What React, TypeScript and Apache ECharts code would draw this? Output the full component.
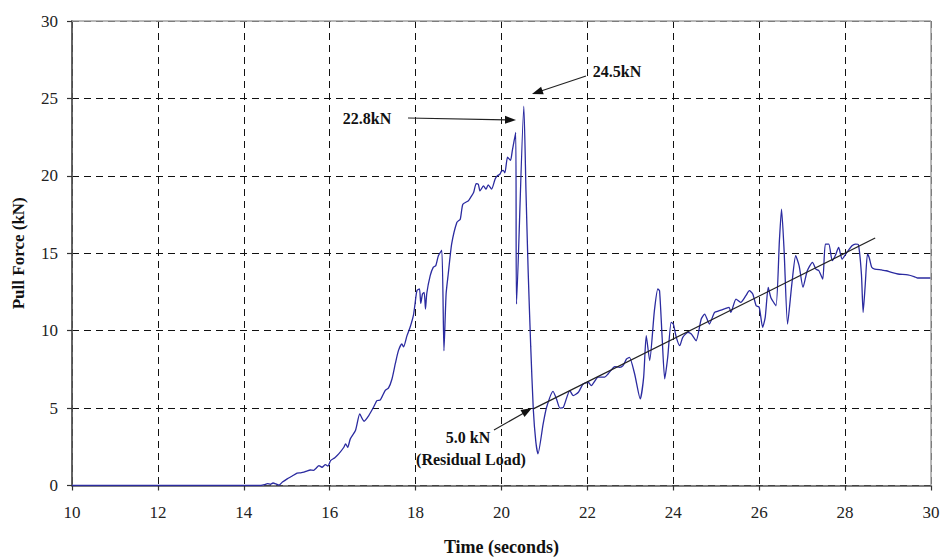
import React, { useEffect, useRef } from "react";
import * as echarts from "echarts";

const timeSec = [
  10, 14.4, 14.48, 14.55, 14.62, 14.68, 14.75, 14.82, 14.9, 15.01, 15.12, 15.24, 15.32, 15.4, 15.48, 15.55, 15.62,
  15.67, 15.75, 15.82, 15.9, 15.96, 16.02, 16.12, 16.21, 16.33, 16.37, 16.42, 16.48, 16.6, 16.7, 16.76, 16.8, 16.91,
  17.02, 17.1, 17.18, 17.29, 17.37, 17.45, 17.53, 17.6, 17.68, 17.72, 17.8, 17.87, 17.95, 17.99, 18.03, 18.09, 18.12,
  18.16, 18.2, 18.23, 18.26, 18.34, 18.41, 18.47, 18.53, 18.61, 18.66, 18.71, 18.76, 18.84, 18.96, 19.04, 19.1, 19.23,
  19.28, 19.35, 19.41, 19.46, 19.5, 19.58, 19.64, 19.69, 19.77, 19.85, 19.9, 19.96, 20.0, 20.04, 20.08, 20.14, 20.21,
  20.25, 20.33, 20.35, 20.52, 20.57, 20.62, 20.68, 20.74, 20.8, 20.85, 20.97, 21.05, 21.2, 21.28, 21.36, 21.44, 21.59,
  21.67, 21.79, 21.9, 22.02, 22.09, 22.25, 22.4, 22.48, 22.64, 22.75, 22.83, 22.91, 22.98, 23.1, 23.23, 23.31, 23.37,
  23.45, 23.56, 23.64, 23.68, 23.74, 23.8, 23.87, 23.95, 24.0, 24.07, 24.15, 24.22, 24.34, 24.42, 24.53, 24.65, 24.73,
  24.84, 24.96, 25.07, 25.19, 25.3, 25.34, 25.46, 25.57, 25.69, 25.77, 25.85, 25.93, 26.0, 26.08, 26.14, 26.21, 26.27,
  26.39, 26.47, 26.52, 26.58, 26.66, 26.76, 26.85, 26.93, 27.02, 27.12, 27.24, 27.32, 27.39, 27.48, 27.54, 27.62,
  27.7, 27.77, 27.85, 27.93, 28.04, 28.16, 28.24, 28.31, 28.38, 28.42, 28.47, 28.52, 28.56, 28.62, 28.69, 28.85,
  28.96, 29.08, 29.23, 29.46, 29.62, 29.69, 30.0,
];

const pullForce = [
  0, 0, 0.05, 0.12, 0.08, 0.16, 0.1, 0.02, 0.22, 0.43, 0.6, 0.8, 0.82, 0.86, 0.95, 1.0, 0.98,
  1.08, 1.29, 1.18, 1.35, 1.25, 1.61, 1.8, 2.04, 2.47, 2.69, 2.47, 3.01, 3.55, 4.62, 4.3, 4.15, 4.52,
  5.05, 5.48, 5.53, 6.13, 6.3, 6.88, 7.9, 8.71, 9.14, 8.95, 9.68, 10.2, 11.0, 11.8, 12.58, 12.7, 11.76,
  12.37, 12.47, 11.4, 12.4, 13.55, 14.09, 14.2, 14.84, 15.2, 8.7, 12.37, 13.66, 15.6, 16.99, 17.2, 18.17, 18.39,
  18.6, 18.92, 19.5, 19.46, 19.03, 19.35, 19.14, 19.42, 19.14, 19.78, 20.0, 20.1, 20.3, 20.35, 20.2, 21.2, 21.0,
  21.6, 22.8, 11.72, 24.5, 19.0, 13.9, 9.0, 4.94, 2.8, 2.05, 3.98, 5.05, 6.08, 5.59, 5.0, 5.05, 6.13,
  5.81, 6.02, 6.56, 6.67, 6.45, 7.0, 7.0, 7.2, 7.68, 7.63, 7.74, 8.17, 8.28, 7.2, 5.59, 7.0, 9.68,
  8.07, 11.29, 12.69, 12.58, 9.57, 6.88, 8.28, 10.54, 10.43, 9.57, 9.03, 9.57, 9.89, 9.78, 9.35, 10.75, 11.07,
  10.43, 11.18, 11.29, 11.4, 11.51, 11.18, 12.04, 11.83, 12.26, 12.58, 12.37, 11.61, 11.51, 10.22, 10.86, 12.8, 12.15,
  11.61, 15.8, 17.85, 15.16, 10.43, 13.01, 14.84, 14.19, 12.8, 13.87, 14.41, 13.98, 13.87, 13.33, 15.59, 15.59,
  14.52, 14.84, 15.38, 14.62, 15.05, 15.48, 15.59, 15.55, 13.66, 11.18, 13.01, 14.95, 14.73, 14.09, 13.98, 13.92,
  13.87, 13.76, 13.66, 13.6, 13.48, 13.4, 13.4,
];

// residual-load trend line
const trendTime = [20.74, 28.7];
const trendForce = [4.95, 15.98];

const xTicks = [10, 12, 14, 16, 18, 20, 22, 24, 26, 28, 30];
const yTicks = [0, 5, 10, 15, 20, 25, 30];

const SERIF = "'Liberation Serif', 'Times New Roman', 'DejaVu Serif', serif";

export default function App() {
  const ref = useRef<HTMLDivElement>(null);

  useEffect(() => {
    if (!ref.current) return;
    const chart = echarts.init(ref.current, null, { renderer: "svg" });
    const data = timeSec.map((t, i) => [t, pullForce[i]]);
    const trend = trendTime.map((t, i) => [t, trendForce[i]]);
    const gridLeft = 72;
    const gridTop = 21;
    const gridRight = 10;
    const gridBottom = 71.5;
    const W = 941;
    const H = 557;
    const xR = W - gridRight;
    const yB = H - gridBottom;

    const annFont = { fontFamily: SERIF, fontWeight: "bold", fontSize: 16, fill: "#111" };

    chart.setOption({
      animation: false,
      backgroundColor: "#ffffff",
      grid: {
        left: gridLeft,
        right: gridRight,
        top: gridTop,
        bottom: gridBottom,
        containLabel: false,
        outerBoundsMode: "none",
      },
      xAxis: {
        type: "value",
        min: xTicks[0],
        max: xTicks[xTicks.length - 1],
        interval: 2,
        name: "Time (seconds)",
        nameLocation: "middle",
        nameGap: 52,
        nameTextStyle: { fontFamily: SERIF, fontWeight: "bold", fontSize: 18, color: "#111" },
        axisLine: { show: true, onZero: false, lineStyle: { color: "#555", width: 1.5 } },
        axisTick: { show: true, inside: false, length: 5, lineStyle: { color: "#333", width: 1.2 } },
        axisLabel: { fontFamily: SERIF, fontSize: 17, color: "#222", margin: 18 },
        splitLine: { show: true, lineStyle: { color: "#111", width: 1, type: [7, 5] } },
      },
      yAxis: {
        type: "value",
        min: yTicks[0],
        max: yTicks[yTicks.length - 1],
        interval: 5,
        name: "Pull Force (kN)",
        nameLocation: "middle",
        nameGap: 45,
        nameTextStyle: { fontFamily: SERIF, fontWeight: "bold", fontSize: 17, color: "#111" },
        axisLine: { show: true, lineStyle: { color: "#555", width: 1.8 } },
        axisTick: { show: true, inside: false, length: 5, lineStyle: { color: "#333", width: 1.2 } },
        axisLabel: { fontFamily: SERIF, fontSize: 17, color: "#222", margin: 14 },
        splitLine: { show: true, lineStyle: { color: "#111", width: 1, type: [7, 5] } },
      },
      series: [
        {
          type: "line",
          data,
          showSymbol: false,
          smooth: 0.2,
          lineStyle: { color: "#2b2ba0", width: 1.3 },
          z: 3,
        },
        {
          type: "line",
          data: trend,
          showSymbol: false,
          lineStyle: { color: "#222", width: 1.2 },
          z: 4,
        },
      ],
      graphic: [
        // plot frame (top and right)
        { type: "line", shape: { x1: gridLeft, y1: gridTop, x2: xR, y2: gridTop }, style: { stroke: "#a0a0a0", lineWidth: 1.5 }, z: 10 },
        { type: "line", shape: { x1: xR, y1: gridTop, x2: xR, y2: yB }, style: { stroke: "#a0a0a0", lineWidth: 1.5 }, z: 10 },
        // 24.5kN
        { type: "text", x: 617, y: 71, style: { ...annFont, text: "24.5kN", align: "center", verticalAlign: "middle" }, z: 20 },
        { type: "line", shape: { x1: 586, y1: 76, x2: 541, y2: 91 }, style: { stroke: "#222", lineWidth: 1.2 }, z: 20 },
        { type: "polygon", shape: { points: [[532, 94], [543.7, 94.3], [541.1, 86.7]] }, style: { fill: "#111" }, z: 20 },
        // 22.8kN
        { type: "text", x: 367, y: 118, style: { ...annFont, text: "22.8kN", align: "center", verticalAlign: "middle" }, z: 20 },
        { type: "line", shape: { x1: 408, y1: 118, x2: 506, y2: 119.8 }, style: { stroke: "#222", lineWidth: 1.2 }, z: 20 },
        { type: "polygon", shape: { points: [[516, 120], [505, 115.8], [505, 123.8]] }, style: { fill: "#111" }, z: 20 },
        // 5.0 kN residual
        { type: "text", x: 468, y: 437, style: { ...annFont, text: "5.0 kN", align: "center", verticalAlign: "middle" }, z: 20 },
        { type: "text", x: 471, y: 459, style: { ...annFont, text: "(Residual Load)", align: "center", verticalAlign: "middle" }, z: 20 },
        { type: "line", shape: { x1: 494, y1: 430, x2: 523, y2: 413.5 }, style: { stroke: "#222", lineWidth: 1.2 }, z: 20 },
        { type: "polygon", shape: { points: [[532, 408], [524.5, 417.0], [520.5, 410.0]] }, style: { fill: "#111" }, z: 20 },
      ],
    });
    return () => chart.dispose();
  }, []);

  return (
    <div
      ref={ref}
      style={{ position: "fixed", left: 0, top: 0, width: 941, height: 557, background: "#fff" }}
    />
  );
}
